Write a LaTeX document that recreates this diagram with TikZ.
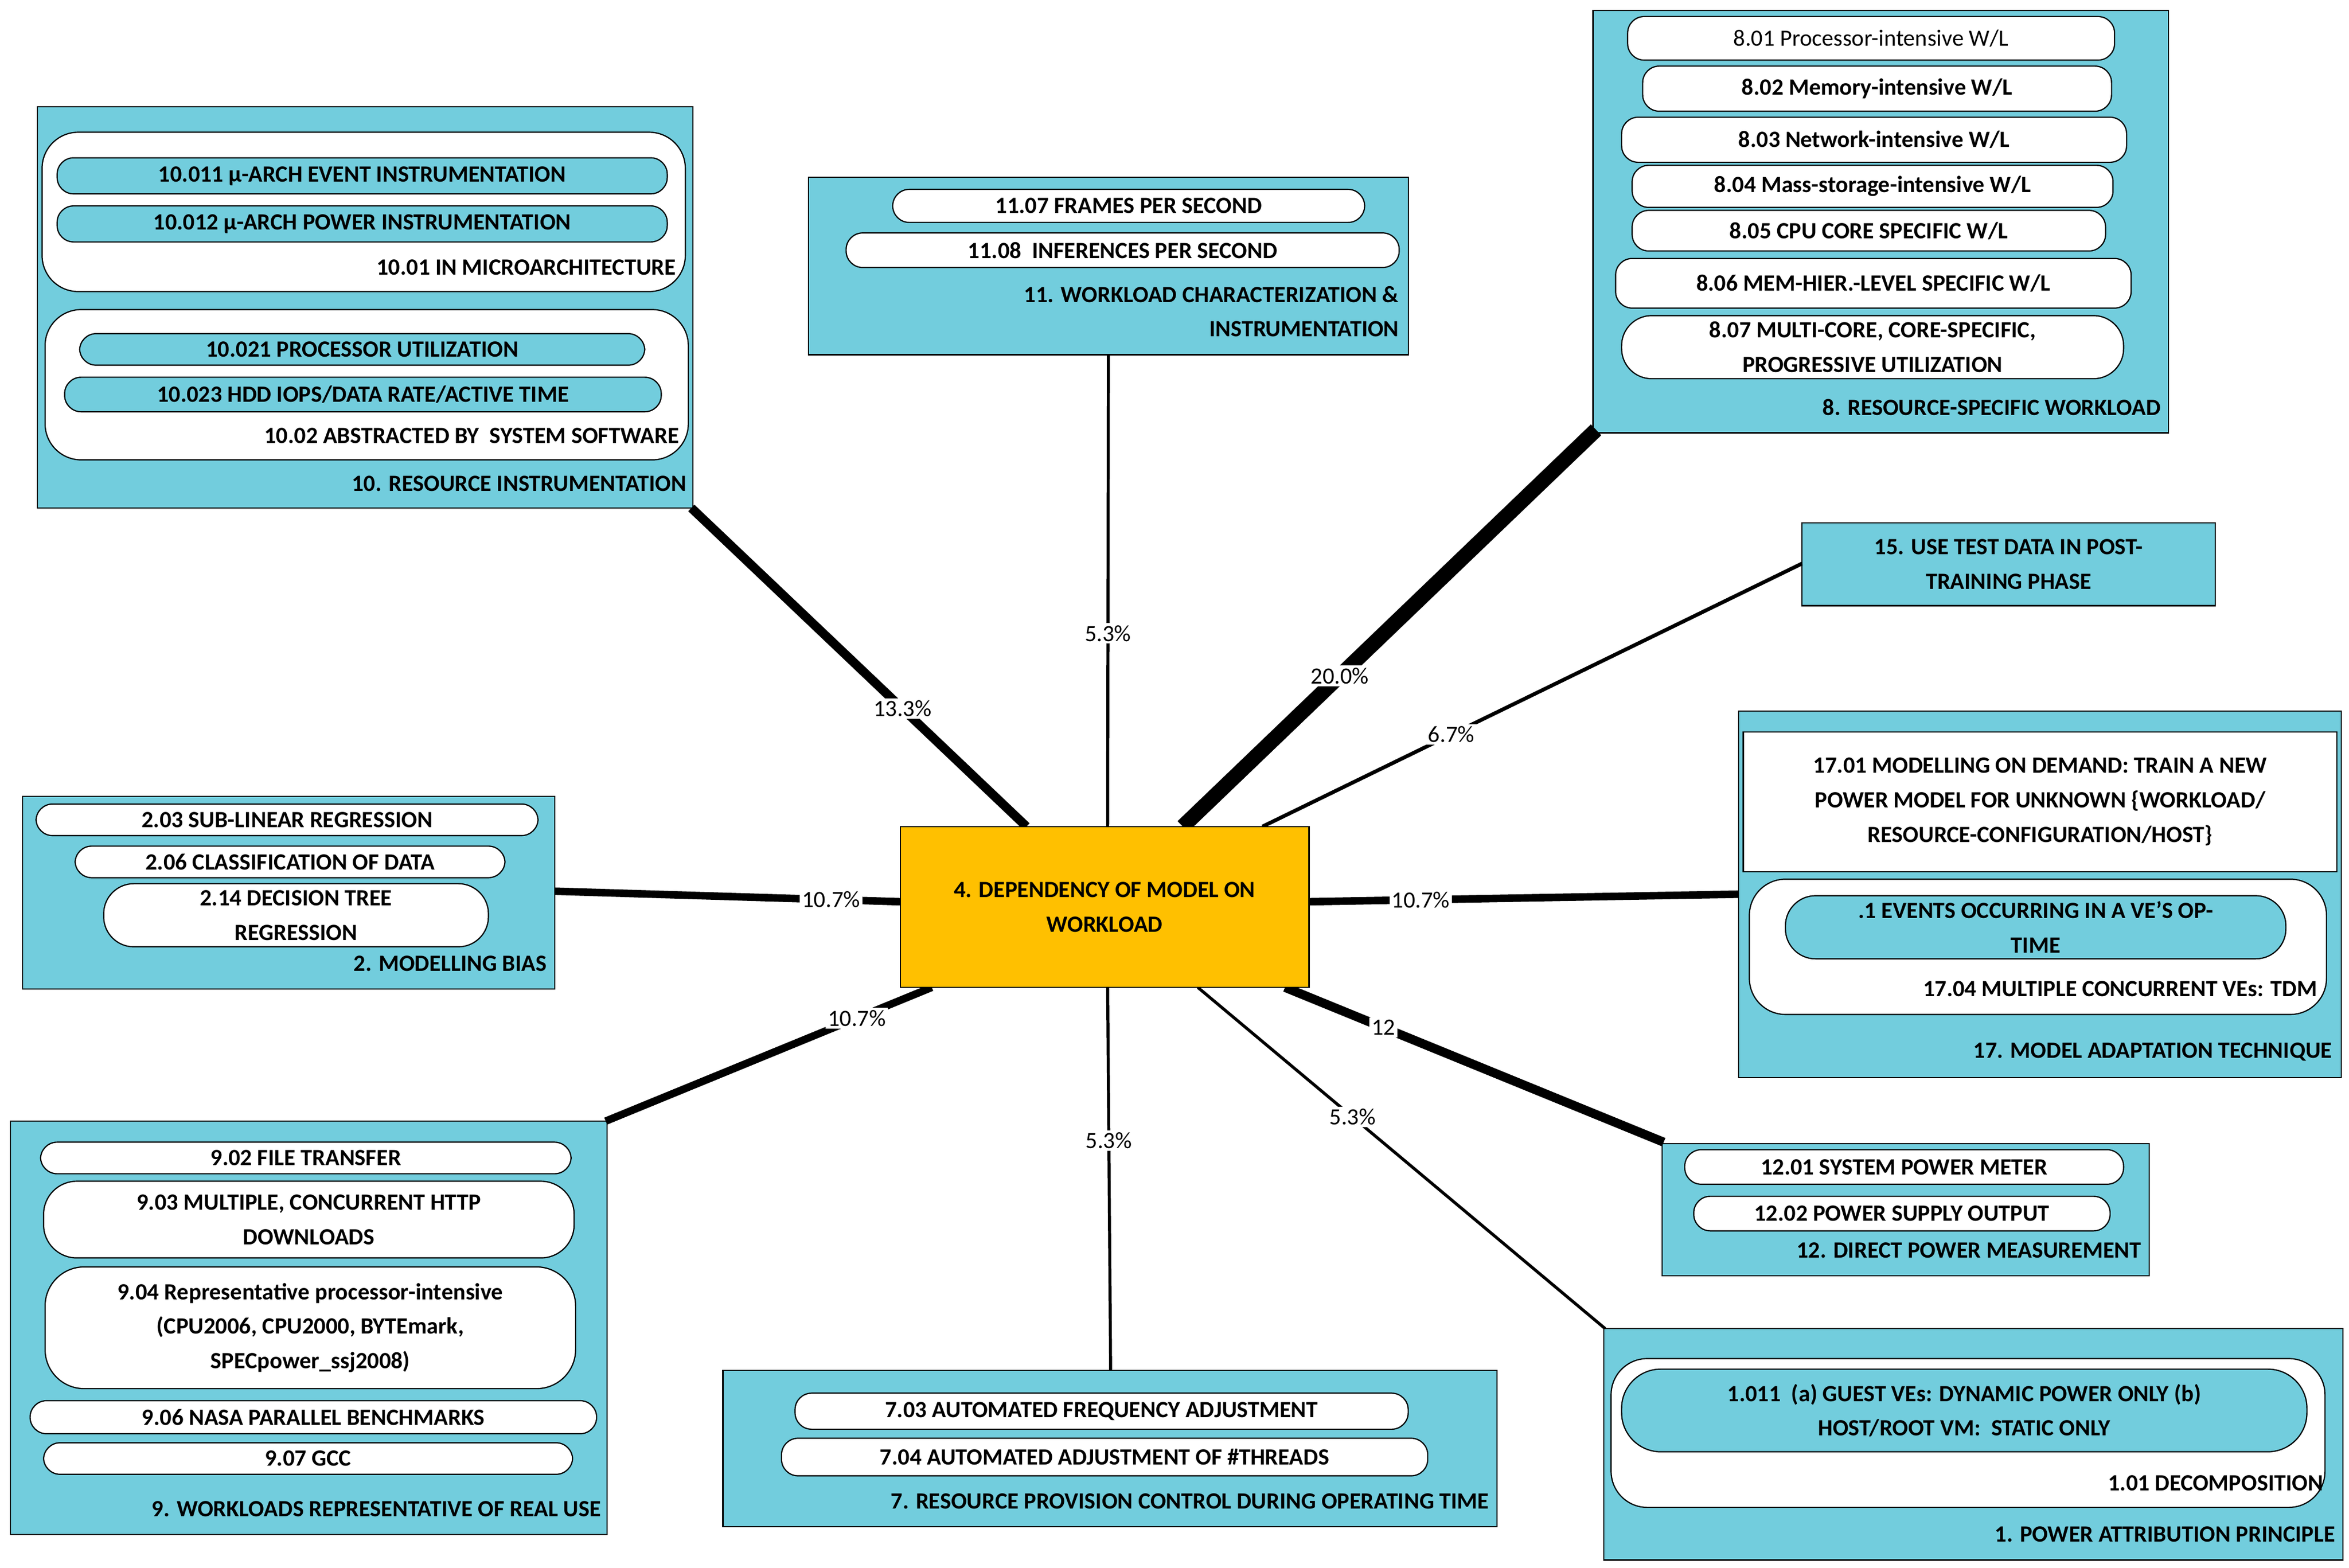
\documentclass[tikz,border=0pt]{standalone}
\usepackage{fontspec}
\setmainfont{Carlito}
\definecolor{teal1}{HTML}{72CDDD}
\definecolor{orng}{HTML}{FFC000}
\newcommand\bx[6]{\node[#1,minimum width={(#4-#2)*1pt},minimum height={(#5-#3)*1pt}] (#6) at ({(#2+#4)/2},{(#3+#5)/2})}
\begin{document}
\begin{tikzpicture}[x=1pt,y=-1pt,font=\bfseries\fontsize{15.5}{23}\selectfont,
 box/.style={draw=black,line width=0.8pt,fill=teal1,inner sep=0},
 wpill/.style={draw=black,line width=0.8pt,fill=white,rounded corners=11pt,inner sep=0,align=center},
 tpill/.style={draw=black,line width=0.8pt,fill=teal1,rounded corners=11pt,inner sep=0,align=center},
 cont/.style={draw=black,line width=0.8pt,fill=white,rounded corners=24pt,inner sep=0},
 lbl/.style={anchor=east,inner sep=0},
 pct/.style={fill=white,inner sep=1.5pt}]
\useasboundingbox (0,0) rectangle (1563,1043);
\bx{box}{25}{71}{461}{338}{b10}{};
\bx{box}{538}{118}{937}{236}{b11}{};
\bx{box}{1060}{7}{1443}{288}{b8}{};
\bx{box,align=center}{1199}{348}{1474}{403}{b15}{15. USE TEST DATA IN POST-\\TRAINING PHASE};
\bx{box}{1157}{473}{1558}{717}{b17}{};
\bx{box}{1106}{761}{1430}{849}{b12}{};
\bx{box}{1067}{884}{1559}{1038}{b1}{};
\bx{box}{481}{912}{996}{1016}{b7}{};
\bx{box}{7}{746}{404}{1021}{b9}{};
\bx{box}{15}{530}{369}{658}{b2}{};
\coordinate (e10) at (460,338); \coordinate (c10) at (683,550);
\coordinate (c11) at (737,550);
\coordinate (c8) at (787,550); \coordinate (e8) at (1062,286);
\coordinate (c15) at (840,550); \coordinate (e15) at (1199,375);
\coordinate (c17) at (871,600); \coordinate (e17) at (1157,595);
\coordinate (c12) at (855,657); \coordinate (e12) at (1107,760);
\coordinate (c1) at (797,657); \coordinate (e1) at (1068,884);
\coordinate (c7) at (737,657); \coordinate (e7) at (739,912);
\coordinate (c9) at (620,657); \coordinate (e9) at (403,746);
\coordinate (e2) at (369,593); \coordinate (c2) at (599,600);
\draw[line width=6pt] (c10) -- node[pct,pos=0.37]{\mdseries 13.3\%} (e10);
\draw[line width=2pt] (c11) -- node[pct,pos=0.41]{\mdseries 5.3\%} (b11.south);
\draw[line width=10pt] (c8) -- node[pct,pos=0.38]{\mdseries 20.0\%} (e8);
\draw[line width=2.5pt] (c15) -- node[pct,pos=0.35]{\mdseries 6.7\%} (e15);
\draw[line width=5pt] (c17) -- node[pct,pos=0.26]{\mdseries 10.7\%} (e17);
\draw[line width=6pt] (c12) -- node[pct,pos=0.26]{\mdseries 12} (e12);
\draw[line width=2pt] (c1) -- node[pct,pos=0.38]{\mdseries 5.3\%} (e1);
\draw[line width=2pt] (c7) -- node[pct,pos=0.4]{\mdseries 5.3\%} (e7);
\draw[line width=5pt] (c9) -- node[pct,pos=0.23]{\mdseries 10.7\%} (e9);
\draw[line width=5pt] (e2) -- node[pct,pos=0.8]{\mdseries 10.7\%} (c2);
\bx{box,fill=orng,align=center}{599}{550}{871}{657}{c}{4. DEPENDENCY OF MODEL ON\\WORKLOAD};
% Box 10
\bx{cont}{28}{88}{456}{194}{k1001}{};
\bx{tpill}{38}{105}{444}{129}{p10011}{10.011 µ-ARCH EVENT INSTRUMENTATION};
\bx{tpill}{38}{137}{444}{161}{p10012}{10.012 µ-ARCH POWER INSTRUMENTATION};
\node[lbl] at (450,178) {10.01 IN MICROARCHITECTURE};
\bx{cont}{30}{206}{458}{306}{k1002}{};
\bx{tpill}{53}{222}{429}{243}{p10021}{10.021 PROCESSOR UTILIZATION};
\bx{tpill}{43}{251}{440}{274}{p10023}{10.023 HDD IOPS/DATA RATE/ACTIVE TIME};
\node[lbl] at (452,290) {10.02 ABSTRACTED BY\ \ SYSTEM SOFTWARE};
\node[lbl] at (457,322) {10. RESOURCE INSTRUMENTATION};
% Box 11
\bx{wpill}{594}{126}{908}{148}{p1107}{11.07 FRAMES PER SECOND};
\bx{wpill}{563}{155}{931}{178}{p1108}{11.08\ \ INFERENCES PER SECOND};
\node[lbl] at (931,196) {11. WORKLOAD CHARACTERIZATION \&};
\node[lbl] at (931,219) {INSTRUMENTATION};
% Box 8
\bx{wpill}{1083}{11}{1407}{40}{p801}{\mdseries 8.01 Processor-intensive W/L};
\bx{wpill}{1093}{44}{1405}{74}{p802}{8.02 Memory-intensive W/L};
\bx{wpill}{1079}{78}{1415}{108}{p803}{8.03 Network-intensive W/L};
\bx{wpill}{1086}{110}{1406}{138}{p804}{8.04 Mass-storage-intensive W/L};
\bx{wpill}{1086}{140}{1401}{167}{p805}{8.05 CPU CORE SPECIFIC W/L};
\bx{wpill}{1075}{172}{1418}{205}{p806}{8.06 MEM-HIER.-LEVEL SPECIFIC W/L};
\bx{wpill,rounded corners=20pt}{1079}{210}{1413}{252}{p807}{8.07 MULTI-CORE, CORE-SPECIFIC,\\PROGRESSIVE UTILIZATION};
\node[lbl] at (1438,271) {8. RESOURCE-SPECIFIC WORKLOAD};
% Box 17
\bx{box,fill=white,align=center}{1160}{487}{1555}{580}{r1701}{17.01 MODELLING ON DEMAND: TRAIN A NEW\\POWER MODEL FOR UNKNOWN \{WORKLOAD/\\RESOURCE-CONFIGURATION/HOST\}};
\bx{cont}{1164}{585}{1548}{675}{k1704}{};
\bx{tpill,rounded corners=20pt}{1188}{596}{1521}{638}{p171}{.1 EVENTS OCCURRING IN A VE’S OP-\\TIME};
\node[lbl] at (1542,658) {17.04 MULTIPLE CONCURRENT VEs: TDM};
\node[lbl] at (1552,700) {17. MODEL ADAPTATION TECHNIQUE};
% Box 12
\bx{wpill}{1121}{765}{1413}{788}{p1201}{12.01 SYSTEM POWER METER};
\bx{wpill}{1127}{796}{1404}{819}{p1202}{12.02 POWER SUPPLY OUTPUT};
\node[lbl] at (1425,832) {12. DIRECT POWER MEASUREMENT};
% Box 1
\bx{cont}{1072}{904}{1547}{1003}{k101}{};
\bx{tpill,rounded corners=26pt}{1079}{911}{1535}{966}{p1011}{1.011\ \ (a) GUEST VEs: DYNAMIC POWER ONLY (b)\\HOST/ROOT VM:\ \ STATIC ONLY};
\node[lbl] at (1546,987) {1.01 DECOMPOSITION};
\node[lbl] at (1554,1021) {1. POWER ATTRIBUTION PRINCIPLE};
% Box 7
\bx{wpill}{529}{927}{937}{951}{p703}{7.03 AUTOMATED FREQUENCY ADJUSTMENT};
\bx{wpill}{520}{957}{950}{982}{p704}{7.04 AUTOMATED ADJUSTMENT OF \#THREADS};
\node[lbl] at (991,999) {7. RESOURCE PROVISION CONTROL DURING OPERATING TIME};
% Box 9
\bx{wpill}{27}{760}{380}{781}{p902}{9.02 FILE TRANSFER};
\bx{wpill,rounded corners=22pt}{29}{786}{382}{837}{p903}{9.03 MULTIPLE, CONCURRENT HTTP\\DOWNLOADS};
\bx{wpill,rounded corners=26pt}{30}{843}{383}{924}{p904}{9.04 Representative processor-intensive\\(CPU2006, CPU2000, BYTEmark,\\SPECpower\_ssj2008)};
\bx{wpill}{20}{932}{397}{954}{p906}{9.06 NASA PARALLEL BENCHMARKS};
\bx{wpill}{29}{960}{381}{981}{p907}{9.07 GCC};
\node[lbl] at (400,1004) {9. WORKLOADS REPRESENTATIVE OF REAL USE};
% Box 2
\bx{wpill}{24}{535}{358}{556}{p203}{2.03 SUB-LINEAR REGRESSION};
\bx{wpill}{50}{563}{336}{584}{p206}{2.06 CLASSIFICATION OF DATA};
\bx{wpill,rounded corners=20pt}{69}{588}{325}{630}{p214}{2.14 DECISION TREE\\REGRESSION};
\node[lbl] at (364,641) {2. MODELLING BIAS};
\end{tikzpicture}
\end{document}
